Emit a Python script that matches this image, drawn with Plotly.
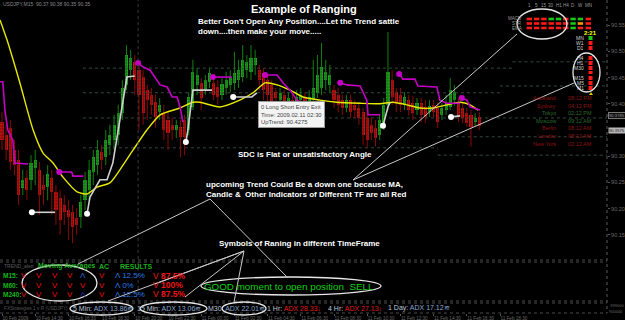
import plotly.graph_objects as go

W, H = 625, 320

# ---------------------------------------------------------------- data
# USDJPY M15 candles (bar index 0..115)
opens = [90.365, 90.340, 90.354, 90.312, 90.293, 90.239, 90.258, 90.255, 90.277, 90.274,
         90.245, 90.241, 90.258, 90.232, 90.220, 90.207, 90.197, 90.193, 90.182, 90.184,
         90.216, 90.235, 90.270, 90.283, 90.308, 90.298, 90.321, 90.331, 90.340, 90.382,
         90.436, 90.464, 90.480, 90.464, 90.451, 90.426, 90.417, 90.403, 90.384, 90.382,
         90.369, 90.360, 90.350, 90.356, 90.369, 90.350, 90.394, 90.436, 90.440, 90.426,
         90.442, 90.440, 90.432, 90.417, 90.430, 90.436, 90.440, 90.445, 90.451, 90.464,
         90.461, 90.474, 90.464, 90.459, 90.445, 90.436, 90.422, 90.407, 90.417, 90.403,
         90.407, 90.398, 90.407, 90.413, 90.401, 90.407, 90.421, 90.430, 90.445, 90.436,
         90.426, 90.417, 90.407, 90.392, 90.407, 90.398, 90.392, 90.384, 90.373, 90.360,
         90.354, 90.340, 90.360, 90.398, 90.445, 90.422, 90.417, 90.398, 90.407, 90.401,
         90.388, 90.401, 90.394, 90.384, 90.398, 90.392, 90.379, 90.388, 90.394, 90.407,
         90.401, 90.392, 90.382, 90.379, 90.365, 90.375]
closes = [90.331, 90.312, 90.289, 90.283, 90.226, 90.255, 90.235, 90.287, 90.293, 90.226,
          90.235, 90.266, 90.232, 90.197, 90.178, 90.193, 90.184, 90.165, 90.169, 90.213,
          90.255, 90.274, 90.298, 90.312, 90.293, 90.331, 90.340, 90.360, 90.382, 90.430,
          90.493, 90.487, 90.445, 90.417, 90.382, 90.407, 90.398, 90.375, 90.398, 90.350,
          90.344, 90.350, 90.360, 90.337, 90.337, 90.413, 90.461, 90.455, 90.411, 90.445,
          90.459, 90.417, 90.413, 90.438, 90.445, 90.451, 90.459, 90.464, 90.484, 90.480,
          90.487, 90.487, 90.445, 90.426, 90.417, 90.401, 90.411, 90.421, 90.398, 90.411,
          90.392, 90.413, 90.417, 90.398, 90.413, 90.430, 90.455, 90.470, 90.461, 90.455,
          90.407, 90.398, 90.392, 90.407, 90.384, 90.388, 90.373, 90.340, 90.331, 90.344,
          90.335, 90.369, 90.398, 90.461, 90.413, 90.401, 90.398, 90.413, 90.388, 90.382,
          90.401, 90.379, 90.375, 90.396, 90.384, 90.365, 90.392, 90.401, 90.426, 90.422,
          90.375, 90.373, 90.363, 90.356, 90.373, 90.358]
highs = [90.384, 90.360, 90.369, 90.331, 90.312, 90.274, 90.274, 90.302, 90.312, 90.289,
         90.264, 90.283, 90.274, 90.245, 90.235, 90.226, 90.216, 90.207, 90.201, 90.226,
         90.270, 90.293, 90.312, 90.331, 90.321, 90.350, 90.360, 90.379, 90.398, 90.445,
         90.512, 90.503, 90.493, 90.484, 90.464, 90.436, 90.430, 90.417, 90.411, 90.398,
         90.384, 90.373, 90.369, 90.369, 90.379, 90.422, 90.484, 90.468, 90.449, 90.455,
         90.468, 90.449, 90.445, 90.449, 90.461, 90.464, 90.499, 90.484, 90.512, 90.493,
         90.512, 90.503, 90.474, 90.468, 90.455, 90.445, 90.430, 90.430, 90.426, 90.422,
         90.417, 90.426, 90.430, 90.422, 90.426, 90.484, 90.493, 90.516, 90.484, 90.474,
         90.436, 90.430, 90.417, 90.417, 90.417, 90.407, 90.403, 90.392, 90.388, 90.373,
         90.369, 90.379, 90.411, 90.537, 90.464, 90.430, 90.430, 90.422, 90.417, 90.415,
         90.411, 90.411, 90.407, 90.407, 90.407, 90.403, 90.401, 90.417, 90.449, 90.436,
         90.411, 90.403, 90.392, 90.388, 90.382, 90.384]
lows = [90.312, 90.293, 90.274, 90.264, 90.207, 90.226, 90.216, 90.235, 90.245, 90.188,
        90.207, 90.216, 90.188, 90.169, 90.150, 90.169, 90.140, 90.134, 90.150, 90.163,
        90.197, 90.216, 90.245, 90.264, 90.274, 90.283, 90.302, 90.312, 90.321, 90.369,
        90.426, 90.445, 90.417, 90.350, 90.360, 90.369, 90.379, 90.354, 90.369, 90.331,
        90.312, 90.331, 90.335, 90.298, 90.302, 90.340, 90.388, 90.417, 90.388, 90.417,
        90.430, 90.407, 90.398, 90.407, 90.417, 90.422, 90.426, 90.430, 90.442, 90.449,
        90.445, 90.455, 90.426, 90.407, 90.388, 90.379, 90.398, 90.398, 90.384, 90.392,
        90.379, 90.384, 90.396, 90.388, 90.388, 90.398, 90.411, 90.417, 90.426, 90.422,
        90.392, 90.384, 90.379, 90.384, 90.373, 90.373, 90.360, 90.321, 90.316, 90.331,
        90.319, 90.331, 90.350, 90.388, 90.398, 90.384, 90.384, 90.388, 90.377, 90.369,
        90.379, 90.365, 90.363, 90.375, 90.373, 90.354, 90.369, 90.379, 90.388, 90.396,
        90.365, 90.363, 90.356, 90.318, 90.356, 90.350]

# yellow moving average (bar position, price)
ma_x = [-0.48, 1.2, 4.3, 7.5, 9.9, 12.3, 14.7, 18.1, 20.5, 22.9, 26.0, 28.4, 31.6, 34.9,
        38.1, 42.9, 46.0, 47.7, 52.5, 57.3, 60.5, 63.4, 66.3, 69.4, 72.5, 76.6, 80.7,
        86.3, 91.1, 94.2, 97.6, 100.7, 103.9, 107.2, 110.4, 112.8, 114.7]
ma_y = [90.560, 90.522, 90.440, 90.350, 90.306, 90.287, 90.260, 90.232, 90.228, 90.241,
        90.249, 90.274, 90.312, 90.350, 90.379, 90.392, 90.403, 90.403, 90.394, 90.407,
        90.421, 90.440, 90.436, 90.426, 90.413, 90.407, 90.403, 90.401, 90.400, 90.403,
        90.398, 90.392, 90.392, 90.398, 90.403, 90.398, 90.388]

# magenta (down-trend) stop segments
magenta_x = [[-0.48, 0.2, 0.7, 1.4, 2.6, 3.1, 6.3],
             [13.8, 16.8, 17.1, 19.6],
             [32.8, 34.0, 35.7, 37.3, 38.1, 39.8, 41.0, 42.2, 42.9, 43.6],
             [50.8, 55.4],
             [63.4, 66.3, 67.7, 69.4, 71.1, 72.5],
             [81.5, 83.1, 86.3, 87.9, 88.2, 91.1],
             [95.7, 96.6, 99.5, 100.2, 104.8, 105.5, 107.2, 110.4],
             [110.8, 112.0, 112.8, 115.2]]
magenta_y = [[90.442, 90.442, 90.388, 90.350, 90.331, 90.287, 90.285],
             [90.270, 90.270, 90.262, 90.262],
             [90.478, 90.470, 90.464, 90.445, 90.436, 90.432, 90.413, 90.413, 90.394, 90.365],
             [90.451, 90.451],
             [90.455, 90.455, 90.440, 90.426, 90.407, 90.401],
             [90.440, 90.436, 90.434, 90.407, 90.379, 90.379],
             [90.457, 90.447, 90.447, 90.434, 90.432, 90.407, 90.401, 90.401],
             [90.411, 90.407, 90.394, 90.388]]
magenta_dot = [False, True, True, True, True, True, True, True]

# white (up-trend) stop segments
white_x = [[7.2, 12.8],
           [20.5, 21.2, 23.6, 25.3, 26.7, 28.0, 29.2, 30.1, 32.0],
           [44.3, 44.8, 46.0, 50.6],
           [55.7, 60.2, 61.4],
           [91.8, 93.0, 93.5],
           [108.2, 110.4]]
white_y = [[90.193, 90.193],
           [90.190, 90.222, 90.255, 90.255, 90.287, 90.350, 90.413, 90.451, 90.453],
           [90.327, 90.350, 90.426, 90.426],
           [90.413, 90.413, 90.421],
           [90.358, 90.394, 90.403],
           [90.375, 90.377]]

# pivot levels (price, from bar, to bar)
pivot_level = [90.468, 90.480, 90.421, 90.434, 90.373, 90.316, 90.337, 90.302]
pivot_from = [19.5, 123.0, 19.5, 120.0, 19.5, 19.5, 105.0, 105.0]
pivot_to = [123.0, 145.8, 120.0, 145.8, 145.8, 105.0, 145.8, 145.8]
separator_bar = 32.8

# 90.35 is hidden behind the current-price box in the reference
price_ticks = [90.15, 90.20, 90.25, 90.30, 90.40, 90.45, 90.50, 90.55]
price_labels = ["90.15", "90.20", "90.25", "90.30", "90.40", "90.45", "90.50", "90.55"]
date_ticks = [0, 8, 16, 24, 32, 40, 48, 56, 64, 72, 80, 88, 96, 104, 112, 120]
date_labels = ["10 Feb 2009", "10 Feb 14:30", "10 Feb 16:30", "10 Feb 18:30", "10 Feb 20:30",
               "10 Feb 22:30", "11 Feb 00:30", "11 Feb 02:30", "11 Feb 04:30", "11 Feb 06:30",
               "11 Feb 08:30", "11 Feb 10:30", "11 Feb 12:30", "11 Feb 14:30", "11 Feb 16:30",
               "11 Feb 18:30"]

# dashboard
dash_cols = ["1", "5", "15", "30", "H1", "H4", "D", "W", "MN"]
dash_rows = ["MACD", "STR", "EMA"]
dash_state = [["r", "r", "r", "g", "g", "r", "g", "g", "r"],
              ["r", "r", "r", "r", "r", "r", "g", "o", "r"],
              ["r", "r", "r", "r", "r", "r", "g", "r", "r"]]
tf_labels = ["MN", "W1", "D1", "H4", "H1", "M30", "M15", "M5", "M1"]
tf_state = ["g", "r", "r", "r", "r", "r", "r", "r", "r"]
sessions = ["Auckland", "Sydney", "Tokyo", "Moscow", "Berlin", "London", "New York"]
session_times = ["08:12 PM", "04:12 PM", "02:12 PM", "09:12 AM", "08:12 AM", "08:12 AM", "02:12 AM"]
session_state = ["r", "r", "g", "g", "r", "r", "r"]

# trend alert panel
trend_rows = ["M15:", "M60:", "M240:"]
trend_signals = [["V", "V", "V", "V", "Λ", "V"],
                 ["V", "V", "V", "V", "V", "V"],
                 ["V", "V", "V", "V", "Λ", "V"]]
trend_up_pct = ["12.5%", "0%", "12.5%"]
trend_dn_pct = ["87.5%", "100%", "87.5%"]

adx_frames = ["5 Min:", "15 Min:", "M30:", "1 Hr:", "4 Hr:", "1 Day:"]
adx_values = ["13.86", "13.06", "22.01", "28.33", "27.13", "17.12"]
adx_down = [False, False, False, True, True, False]

# ---------------------------------------------------------------- helpers
def PX(x):
    return x / W

def PY(y):
    return 1 - y / H

FONT = "Liberation Sans"
fig = go.Figure()

# pivot lines
px_, py_ = [], []
for lv, a, b in zip(pivot_level, pivot_from, pivot_to):
    px_ += [a, b, None]
    py_ += [lv, lv, None]
fig.add_trace(go.Scatter(x=px_, y=py_, mode="lines", hoverinfo="skip",
                         line=dict(color="#33493f", width=1, dash="dot")))

# candles
bars = list(range(len(opens)))
up = [c >= o for o, c in zip(opens, closes)]
for sel, wcol, bg, fg in [(True, "#108010", "#127212", "#3fd83f"),
                          (False, "#8a0a0a", "#8c0808", "#ff3424")]:
    wx, wy = [], []
    bx, bb, bh = [], [], []
    for i in bars:
        if up[i] == sel:
            wx += [i, i, None]
            wy += [lows[i], highs[i], None]
            bx.append(i)
            bb.append(min(opens[i], closes[i]))
            bh.append(max(abs(closes[i] - opens[i]), 0.002))
    fig.add_trace(go.Scatter(x=wx, y=wy, mode="lines", hoverinfo="skip",
                             line=dict(color=wcol, width=1)))
    fig.add_trace(go.Bar(x=bx, y=bh, base=bb, width=0.75, hoverinfo="skip",
                         marker=dict(color=bg, line=dict(width=0),
                                     pattern=dict(shape=".", fgcolor=fg, bgcolor=bg,
                                                  size=3, solidity=0.5))))

# moving average
fig.add_trace(go.Scatter(x=ma_x, y=ma_y, mode="lines", hoverinfo="skip",
                         line=dict(color="#e8e800", width=1.4, shape="spline", smoothing=0.6)))

# magenta segments
for xs, ys, dot in zip(magenta_x, magenta_y, magenta_dot):
    fig.add_trace(go.Scatter(x=xs, y=ys, mode="lines", hoverinfo="skip",
                             line=dict(color="#c400c4", width=1.6)))
    if dot:
        fig.add_trace(go.Scatter(x=xs[:1], y=ys[:1], mode="markers", hoverinfo="skip",
                                 marker=dict(color="#c400c4", size=6)))
# white segments
for xs, ys in zip(white_x, white_y):
    fig.add_trace(go.Scatter(x=xs, y=ys, mode="lines", hoverinfo="skip",
                             line=dict(color="#d0d0d0", width=1.6)))
    fig.add_trace(go.Scatter(x=xs[:1], y=ys[:1], mode="markers", hoverinfo="skip",
                             marker=dict(color="#ffffff", size=6)))

shapes = []
ann = []

def txt(x, y, s, size=8, color="white", bold=False, anchor="left", bg=None, border=None):
    d = dict(x=PX(x), y=PY(y), xref="paper", yref="paper", showarrow=False,
             text=("<b>%s</b>" % s) if bold else s, xanchor=anchor, yanchor="middle",
             font=dict(size=size, color=color, family=FONT), borderpad=0)
    if bg:
        d["bgcolor"] = bg
    if border:
        d["bordercolor"] = border
        d["borderwidth"] = 1
    ann.append(d)

def line(x0, y0, x1, y1, color="#c8c8c8", width=1, dash=None):
    shapes.append(dict(type="line", xref="paper", yref="paper", x0=PX(x0), y0=PY(y0),
                       x1=PX(x1), y1=PY(y1),
                       line=dict(color=color, width=width, dash=dash or "solid")))

def ellipse(x0, y0, x1, y1):
    shapes.append(dict(type="circle", xref="paper", yref="paper", x0=PX(x0), y0=PY(y1),
                       x1=PX(x1), y1=PY(y0), line=dict(color="#e6e6e6", width=1.3)))

# separators / frame
shapes.append(dict(type="line", xref="x", yref="paper", x0=separator_bar, x1=separator_bar,
                   y0=PY(301), y1=1, line=dict(color="#3c3c3c", width=1, dash="dot")))
for yy in (260, 262, 301, 303):
    line(0, yy, 607, yy, color="#4a4a4a", width=1, dash="dot")
line(607, 0, 607, 313, color="#5a5a5a", width=1, dash="dot")
line(0, 313, 607, 313, color="#4a4a4a", width=1, dash="dot")

# top-left info
txt(2, 4, "USDJPY,M15  90.37 90.38 90.35 90.35", size=5, color="#8a8a8a")

# dashboard grid
col_cx = [529.3, 536.6, 543.9, 551.2, 558.5, 565.8, 573.1, 580.4, 588.3]
row_cy = [19, 23.5, 28]
cmap = {"r": "#ff1a1a", "g": "#19c819", "o": "#ff9900"}
for j, c in enumerate(dash_cols):
    txt(col_cx[j], 5, c, size=4.5, color="#9a9a9a", anchor="center")
for i, r in enumerate(dash_rows):
    txt(523, row_cy[i], r, size=4.5, color="#9a9a9a", anchor="right")
    for j in range(len(dash_cols)):
        shapes.append(dict(type="rect", xref="paper", yref="paper",
                           x0=PX(col_cx[j] - 2.7), x1=PX(col_cx[j] + 2.7),
                           y0=PY(row_cy[i] + 1.3), y1=PY(row_cy[i] - 1.3),
                           line=dict(width=0), fillcolor=cmap[dash_state[i][j]]))
txt(590, 33, "2:21", size=6, color="#ffff00", bold=True, anchor="center")
tf_y = [38, 43, 48, 58, 63, 68, 78, 83, 88]
for lab, st, yy in zip(tf_labels, tf_state, tf_y):
    txt(585, yy, lab, size=5, color="#d0d0d0", anchor="right")
    shapes.append(dict(type="rect", xref="paper", yref="paper", x0=PX(588.5), x1=PX(592.5),
                       y0=PY(yy + 2), y1=PY(yy - 2), line=dict(width=0), fillcolor=cmap[st]))
shapes.append(dict(type="rect", xref="paper", yref="paper", x0=PX(588.5), x1=PX(592.5),
                   y0=PY(74), y1=PY(71), line=dict(width=0), fillcolor=cmap["r"]))
shapes.append(dict(type="path", xref="paper", yref="paper",
                   path="M %f %f L %f %f L %f %f Z" % (PX(589), PY(95), PX(593), PY(95), PX(591), PY(92)),
                   line=dict(width=0), fillcolor="#d8c800"))

# sessions
scol = {"r": "#8e1212", "g": "#2c6a2c"}
for k, (s, t, st) in enumerate(zip(sessions, session_times, session_state)):
    yy = 98 + 7.6 * k
    txt(557, yy, s, size=5.5, color=scol[st], anchor="right")
    txt(567, yy, t, size=5.5, color=scol[st])

# current price boxes on axis
txt(608, 115, "90.3785", size=4.2, color="#9a9a9a", bg="#111111", border="#777777")
txt(608, 130, "90.3575", size=4.2, color="#202020", bg="#b8b8b8")

# tooltip
ann.append(dict(x=PX(258), y=PY(101), xref="paper", yref="paper", showarrow=False,
                xanchor="left", yanchor="top", align="left",
                text="0 Long Short Entry Exit<br>Time: 2009.02.11 02:30<br>UpTrend: 90.4275",
                font=dict(size=5.8, color="#444444", family=FONT),
                bgcolor="#f4f4f4", bordercolor="#9a9a9a", borderwidth=1, borderpad=2))

# commentary
txt(250, 9, "Example of Ranging", size=11, bold=True)
txt(197, 22, "Better Don't Open Any Position....Let the Trend sattle", size=8, bold=True)
txt(197, 32, "down....then make your move.....", size=8, bold=True)
txt(237, 154, "SDC is Flat or unsatisfactory Angle", size=8, bold=True)
txt(205, 184, "upcoming Trend Could Be a down one because MA,", size=8, bold=True)
txt(205, 194, "Candle &amp;  Other Indicators of Different TF are all Red", size=8, bold=True)
txt(218, 243, "Symbols of Raning in different TimeFrame", size=8, bold=True)

# trend alert panel
txt(3, 266, "TREND_alert", size=5, color="#5e5e5e")
txt(37, 266, "Moving Averages", size=7, color="#1fae1f", bold=True)
txt(98, 266, "AC", size=7, color="#1fae1f", bold=True)
txt(119, 266, "RESULTS", size=7, color="#1fae1f", bold=True)
sig_x = [24, 39, 55, 70, 83, 102]
row_y = [275.5, 285, 294]
for r, (lab, sigs, upp, dnp) in enumerate(zip(trend_rows, trend_signals, trend_up_pct, trend_dn_pct)):
    yy = row_y[r]
    txt(2, yy, lab, size=6.5, color="#12b812", bold=True)
    for j, s in enumerate(sigs):
        colr = "#e81010" if s == "V" else ("#3464d8" if r == 0 else "#2a2aa0")
        txt(sig_x[j], yy, s, size=8, color=colr, anchor="center")
    txt(114, yy, "Λ " + upp, size=8, color="#2a78e0")
    txt(152, yy, "V <b>" + dnp + "</b>", size=8.5, color="#f01414")
txt(203, 286, "GOOD moment to open position  SELL", size=9.8, color="#12d012")

# ADX row
adx_x = [72, 136, 207, 266, 327, 387]
txt(3, 308, "FXStrategies 1 v R (USDJPY)", size=4.8, color="#555555")
for fr, v, dn, xx in zip(adx_frames, adx_values, adx_down, adx_x):
    vc = "#e01818" if dn else "#86a6cf"
    sym = "<span style='color:#e01818'>↓</span>" if dn else "≋"
    s = "<span style='color:#b8c6d8'>%s</span> <span style='color:%s'>ADX %s</span>%s" % (fr, vc, v, sym)
    txt(xx, 308, s, size=7, color=vc)

# lower right axis extras
txt(608, 305, "-999000", size=4, color="#6a6a6a")
txt(608, 311, "900000", size=4, color="#6a6a6a")

# ellipses
ellipse(517, 9, 567, 39)
ellipse(573, 53, 600, 92)
ellipse(22, 265, 97, 301)
ellipse(201, 277, 381, 295)
ellipse(70, 302, 133, 315)
ellipse(140, 302, 207, 315)
ellipse(222, 302, 266, 315)

# connectors
line(353, 180, 517, 34)
line(353, 180, 574, 83)
line(210, 199, 78, 264)
line(210, 199, 288, 278)
for tx, ty in [(108, 301), (155, 284), (185, 297), (234, 302)]:
    line(244, 251, tx, ty)

fig.update_layout(
    width=W, height=H, margin=dict(l=0, r=0, t=0, b=0),
    paper_bgcolor="black", plot_bgcolor="black", showlegend=False,
    barmode="overlay", bargap=0, font=dict(family=FONT),
    shapes=shapes, annotations=ann,
    xaxis=dict(domain=[0, 607 / 625], range=[-0.482, 145.78], anchor="free",
               position=PY(313), showgrid=False, zeroline=False, showline=False,
               tickvals=date_ticks, ticktext=date_labels, ticks="outside", ticklen=2,
               tickangle=0, tickcolor="#555555",
               tickfont=dict(size=4.6, color="#6a6a6a", family=FONT),
               ticklabelposition="outside right"),
    yaxis=dict(domain=[PY(260), 1], range=[90.102, 90.598], side="right", anchor="x",
               showgrid=False, zeroline=False, showline=False, tickvals=price_ticks,
               ticktext=price_labels, ticks="outside", ticklen=2, tickcolor="#555555",
               tickfont=dict(size=5.5, color="#6a6a6a", family=FONT)),
    yaxis2=dict(domain=[PY(301), PY(263)], range=[-0.129, 1.097], side="right", anchor="x",
                showgrid=False, zeroline=False, showline=False, tickvals=[0, 1],
                ticktext=["0", "1"], ticks="outside", ticklen=2, tickcolor="#555555",
                tickfont=dict(size=5.5, color="#6a6a6a", family=FONT)),
)

fig.write_html("out.html")
